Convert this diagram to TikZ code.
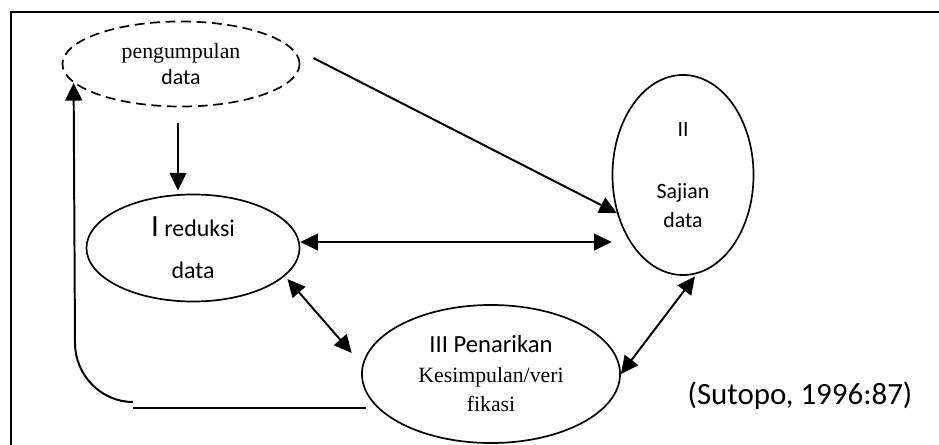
\documentclass[tikz,border=0pt]{standalone}
\usepackage{fontspec}
\setmainfont{Liberation Serif}
\newfontfamily\calibri{Carlito}
\usetikzlibrary{shapes.geometric,arrows.meta,positioning,calc}

\begin{document}
\begin{tikzpicture}[x=0.025cm, y=-0.025cm, >={Triangle[length=0.44cm,width=0.42cm]}]
        % Styles
        \tikzstyle{stage} = [ellipse, draw, line width=1.2pt, inner sep=0pt, align=center, font=\fontsize{15.5}{21}\selectfont]
        \tikzstyle{link} = [draw, ->, line width=1.4pt]
        \tikzstyle{twoway} = [draw, <->, line width=1.4pt]
        \tikzstyle{plain} = [draw, line width=1.2pt]

        % Frame
        \useasboundingbox (0,0) rectangle (939,445);
        \draw [line width=1.8pt] (11,445) -- (11,12) -- (939,12);

        % Nodes
        \node [stage, dashed, dash pattern=on 7pt off 4pt, minimum width=5.925cm, minimum height=2.125cm] (pengumpulan) at (181,64) {pengumpulan\\[-3pt]{\calibri data}};
        \node [stage, minimum width=5.325cm, minimum height=2.675cm] (reduksi) at (193,248) {{\calibri\fontsize{22}{22}\selectfont I} {\calibri\fontsize{17}{21}\selectfont reduksi}\\[9pt]{\calibri\fontsize{17}{21}\selectfont data}};
        \node [stage, minimum width=3.525cm, minimum height=5cm] (sajian) at (683,175) {\calibri II\\[23pt]\calibri Sajian\\\calibri data};
        \node [stage, minimum width=6.45cm, minimum height=3.45cm] (kesimpulan) at (491,374) {{\calibri\fontsize{17.5}{21}\selectfont III Penarikan}\\Kesimpulan/veri\\fikasi};
        \node [font=\calibri\fontsize{22}{26}\selectfont] (sumber) at (800,396) {(Sutopo, 1996:87)};

        % Edges
        \path [link] ([yshift=-0.4cm]pengumpulan.south -| 178,0) -- ([yshift=0.08cm]reduksi.north -| 178,0);
        \path [link] ($(pengumpulan.east)+(13,-6)$) -- (sajian.210);
        \path [twoway] ([yshift=0.15cm]reduksi.east) -- ([yshift=0.15cm]reduksi.east -| sajian.west);
        \path [twoway, shorten <=0.1cm, shorten >=0.4cm] (reduksi.-17) -- (kesimpulan.176);
        \path [twoway, shorten <=0.08cm] (sajian.-82) -- (kesimpulan.east);

        % Loop back
        \coordinate (loopA) at (366,408);
        \coordinate (loopB) at (133,408);
        \coordinate (loopC) at (133,402);
        \coordinate (loopD) at (75,343);
        \path [plain] (loopA) -- (loopB);
        \path [link] (loopC) .. controls (101,402) and (75,375) .. (loopD) -- (pengumpulan.190);

    \end{tikzpicture}
\end{document}
